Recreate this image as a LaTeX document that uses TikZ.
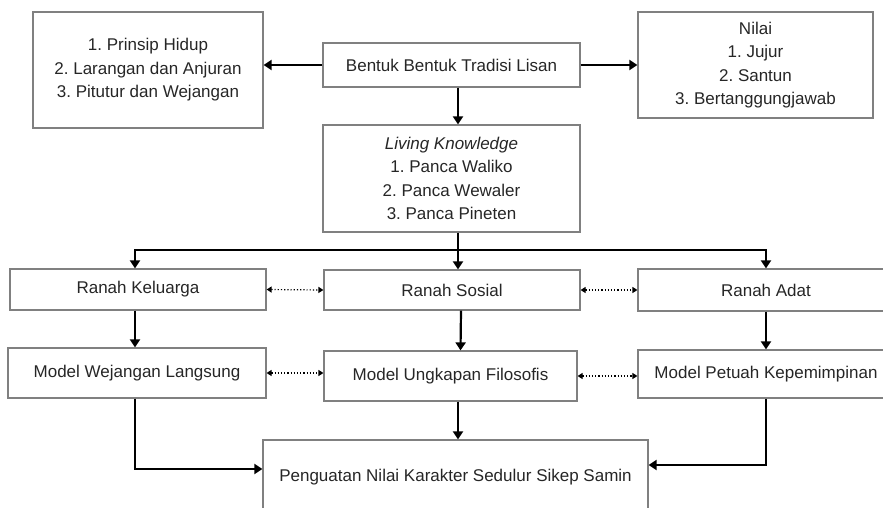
\documentclass[tikz,border=0pt]{standalone}
\usepackage{fontspec}
\setmainfont{Liberation Sans}
\usetikzlibrary{arrows.meta}
\definecolor{boxgray}{HTML}{808080}
\definecolor{txtgray}{HTML}{262626}
\tikzset{
	box/.style={rectangle, draw=boxgray, line width=1.2pt, align=center, text=txtgray, font=\fontsize{17}{23.5}\selectfont, inner sep=0pt},
	flow/.style={line width=2.2pt, -{Triangle[width=10pt,length=8pt]}},
	link/.style={line width=1.2pt, dotted, {Triangle[width=6pt,length=5pt]}-{Triangle[width=6pt,length=5pt]}}
}
\frenchspacing
\begin{document}
\begin{tikzpicture}[x=1pt, y=-1pt]
	\clip (0,0) rectangle (883,508);

	\node (prinsip)[box, minimum width=230pt, minimum height=116pt] at (148, 70) {1. Prinsip Hidup\\2. Larangan dan Anjuran\\3. Pitutur dan Wejangan};
	\node (bentuk)[box, minimum width=257pt, minimum height=44pt] at (451.5, 65) {Bentuk Bentuk Tradisi Lisan};
	\node (nilai)[box, minimum width=235pt, minimum height=106pt] at (755.5, 65) {Nilai\\1. Jujur\\2. Santun\\3. Bertanggungjawab};
	\node (living)[box, minimum width=257pt, minimum height=107pt] at (451.5, 178.5) {\textit{Living Knowledge}\\1. Panca Waliko\\2. Panca Wewaler\\3. Panca Pineten};

	\node (keluarga)[box, minimum width=256pt, minimum height=41pt] at (138, 289.5) {Ranah Keluarga};
	\node (sosial)[box, minimum width=256pt, minimum height=40pt] at (452, 290) {Ranah Sosial};
	\node (adat)[box, minimum width=256pt, minimum height=42pt] at (766, 290) {Ranah Adat};

	\node (wejangan)[box, minimum width=258pt, minimum height=50pt] at (137, 373) {Model Wejangan Langsung};
	\node (ungkapan)[box, minimum width=253pt, minimum height=50pt] at (450.5, 376) {Model Ungkapan Filosofis};
	\node (petuah)[box, minimum width=256pt, minimum height=48pt] at (766, 374) {Model Petuah Kepemimpinan};

	\node (penguatan)[box, minimum width=385pt, minimum height=74pt] at (455.5, 477) {Penguatan Nilai Karakter Sedulur Sikep Samin};

	\coordinate (bus) at (458, 250);

	\draw[flow] (bentuk.west) -- (bentuk.west -| prinsip.east);
	\draw[flow] (bentuk.east) -- (bentuk.east -| nilai.west);
	\draw[flow] (bentuk.south -| bus) -- (living.north -| bus);

	\draw[line width=2.2pt] (living.south -| bus) -- (bus);
	\draw[flow] (bus) -| ([xshift=-3pt]keluarga.north);
	\draw[flow] (bus) -- (sosial.north -| bus);
	\draw[flow] (bus) -| (adat.north);

	\draw[flow] ([xshift=-3pt]keluarga.south) -- ([xshift=-2pt]wejangan.north);
	\draw[flow] ([xshift=9pt]sosial.south) -- ([xshift=10pt]ungkapan.north);
	\draw[flow] (adat.south) -- (petuah.north);

	\draw[flow] ([xshift=-2pt]wejangan.south) |- ([yshift=8pt]penguatan.west);
	\draw[flow] ([xshift=7.5pt]ungkapan.south) -- (ungkapan.south -| bus) -- ([xshift=2.5pt]penguatan.north);
	\draw[flow] (petuah.south) |- ([yshift=12pt]penguatan.east);

	\draw[link] (keluarga.east) -- (sosial.west);
	\draw[link] (sosial.east) -- (adat.west);
	\draw[link] (wejangan.east) -- (wejangan.east -| ungkapan.west);
	\draw[link] (ungkapan.east) -- (ungkapan.east -| petuah.west);
\end{tikzpicture}
\end{document}
